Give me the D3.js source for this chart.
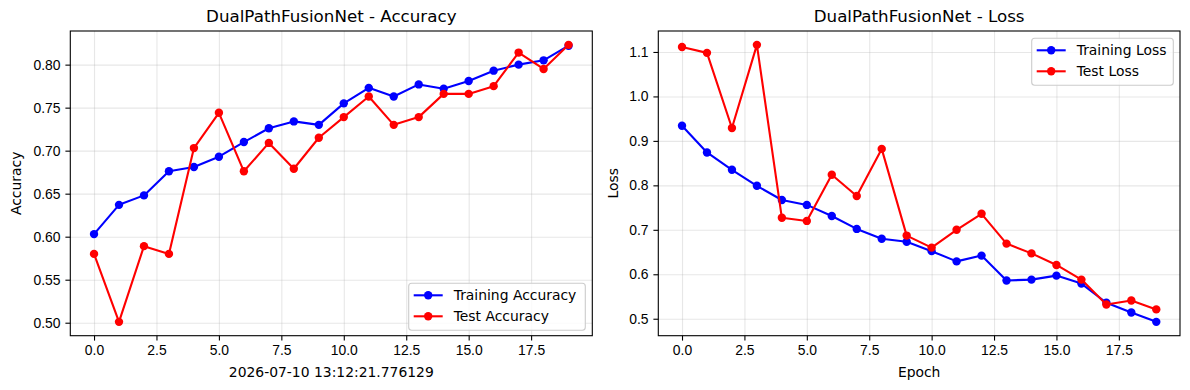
<!DOCTYPE html>
<html>
<head>
<meta charset="utf-8">
<script src="https://d3js.org/d3.v7.min.js"></script>
<title>DualPathFusionNet - training curves</title>
<style>
  body { margin: 0; background: #fff; }
  svg { font-family: "DejaVu Sans", sans-serif; }
  .tick text { font-size: 13.9px; fill: #000; }
  .grid line { stroke: #b0b0b0; stroke-opacity: 0.3; stroke-width: 1.1px; }
  .grid path { display: none; }
</style>
</head>
<body>
<div id="chart"></div>
<script>
// epochs 0..19
var epochs = [0,1,2,3,4,5,6,7,8,9,10,11,12,13,14,15,16,17,18,19];

// accuracy per epoch
var trainAcc = [0.603,0.637,0.648,0.676,0.681,0.693,0.710,0.726,0.734,0.730,
                0.755,0.773,0.763,0.777,0.772,0.781,0.793,0.800,0.805,0.822];
var testAcc  = [0.580,0.501,0.589,0.580,0.703,0.744,0.676,0.709,0.679,0.715,
                0.739,0.763,0.730,0.739,0.766,0.766,0.775,0.814,0.795,0.823];

// loss per epoch
var trainLoss = [0.934,0.874,0.835,0.799,0.767,0.756,0.731,0.702,0.680,0.673,
                 0.652,0.629,0.642,0.586,0.588,0.597,0.579,0.536,0.514,0.493];
var testLoss  = [1.111,1.098,0.929,1.116,0.727,0.720,0.824,0.776,0.882,0.687,
                 0.660,0.700,0.736,0.669,0.647,0.621,0.588,0.532,0.541,0.521];

var xTicks = [0,2.5,5,7.5,10,12.5,15,17.5];
var accTicks = [0.50,0.55,0.60,0.65,0.70,0.75,0.80];
var lossTicks = [0.5,0.6,0.7,0.8,0.9,1.0,1.1];

var W = 1190, H = 390;
var svg = d3.select("#chart").append("svg").attr("width", W).attr("height", H);

// matplotlib style 5% margins
function padded(vals) {
  var lo = d3.min(vals), hi = d3.max(vals), m = (hi - lo) * 0.05;
  return [lo - m, hi + m];
}

function panel(opt) {
  var x = d3.scaleLinear().domain(padded(epochs)).range([opt.left, opt.right]);
  var y = d3.scaleLinear().domain(padded(opt.series[0].values.concat(opt.series[1].values)))
            .range([opt.bottom, opt.top]);
  var g = svg.append("g");
  var h = opt.bottom - opt.top, w = opt.right - opt.left;

  // grid
  g.append("g").attr("class", "grid")
    .attr("transform", "translate(0," + opt.bottom + ")")
    .call(d3.axisBottom(x).tickValues(xTicks).tickSize(-h).tickFormat(""));
  g.append("g").attr("class", "grid")
    .attr("transform", "translate(" + opt.left + ",0)")
    .call(d3.axisLeft(y).tickValues(opt.yTicks).tickSize(-w).tickFormat(""));

  // lines + markers
  opt.series.forEach(function(s) {
    var line = d3.line().x(function(d, i) { return x(epochs[i]); }).y(function(d) { return y(d); });
    g.append("path").datum(s.values)
      .attr("d", line).attr("fill", "none").attr("stroke", s.color)
      .attr("stroke-width", 2.1).attr("stroke-linejoin", "round");
    g.selectAll(null).data(s.values).enter().append("circle")
      .attr("cx", function(d, i) { return x(epochs[i]); })
      .attr("cy", function(d) { return y(d); })
      .attr("r", 4.2).attr("fill", s.color);
  });

  // frame
  g.append("rect").attr("x", opt.left).attr("y", opt.top).attr("width", w).attr("height", h)
    .attr("fill", "none").attr("stroke", "#000").attr("stroke-width", 1.1);

  // axes
  var xa = g.append("g").attr("transform", "translate(0," + opt.bottom + ")")
    .call(d3.axisBottom(x).tickValues(xTicks).tickSize(4.9).tickPadding(4.9).tickFormat(d3.format(".1f")));
  var ya = g.append("g").attr("transform", "translate(" + opt.left + ",0)")
    .call(d3.axisLeft(y).tickValues(opt.yTicks).tickSize(4.9).tickPadding(4.9).tickFormat(d3.format(opt.yFmt)));
  [xa, ya].forEach(function(a) {
    a.select(".domain").remove();
    a.selectAll(".tick line").attr("stroke", "#000").attr("stroke-width", 1.1);
  });

  // titles
  var cx = (opt.left + opt.right) / 2;
  g.append("text").attr("x", cx).attr("y", 22).attr("text-anchor", "middle")
    .attr("font-size", 16.7).attr("fill", "#000").text(opt.title);
  g.append("text").attr("x", cx).attr("y", 377).attr("text-anchor", "middle")
    .attr("font-size", 13.9).attr("fill", "#000").text(opt.xLabel);
  g.append("text").attr("transform", "translate(" + opt.yLabelX + "," + (opt.top + opt.bottom) / 2 + ") rotate(-90)")
    .attr("text-anchor", "middle").attr("font-size", 13.9).attr("fill", "#000").text(opt.yLabel);

  // legend
  var L = opt.legend;
  var lg = g.append("g");
  lg.append("rect").attr("x", L.x).attr("y", L.y).attr("width", L.w).attr("height", 47)
    .attr("rx", 3).attr("fill", "#fff").attr("fill-opacity", 0.8)
    .attr("stroke", "#cccccc").attr("stroke-width", 1.1);
  opt.series.forEach(function(s, i) {
    var ry = L.y + 12 + i * 21;
    lg.append("line").attr("x1", L.x + 5).attr("x2", L.x + 34).attr("y1", ry).attr("y2", ry)
      .attr("stroke", s.color).attr("stroke-width", 2.1);
    lg.append("circle").attr("cx", L.x + 19.5).attr("cy", ry).attr("r", 4.2).attr("fill", s.color);
    lg.append("text").attr("x", L.x + 45).attr("y", ry + 5).attr("font-size", 13.9)
      .attr("fill", "#000").text(s.name);
  });
}

panel({
  left: 70.3, right: 592.3, top: 31, bottom: 335.7,
  title: "DualPathFusionNet - Accuracy",
  xLabel: "2026-07-10 13:12:21.776129",
  yLabel: "Accuracy", yLabelX: 21,
  yTicks: accTicks, yFmt: ".2f",
  series: [
    { name: "Training Accuracy", values: trainAcc, color: "#0000ff" },
    { name: "Test Accuracy", values: testAcc, color: "#ff0000" }
  ],
  legend: { x: 408.7, y: 283.3, w: 176.6 }
});

panel({
  left: 658.3, right: 1180, top: 31, bottom: 335.7,
  title: "DualPathFusionNet - Loss",
  xLabel: "Epoch",
  yLabel: "Loss", yLabelX: 618,
  yTicks: lossTicks, yFmt: ".1f",
  series: [
    { name: "Training Loss", values: trainLoss, color: "#0000ff" },
    { name: "Test Loss", values: testLoss, color: "#ff0000" }
  ],
  legend: { x: 1031.7, y: 38.3, w: 141.6 }
});
</script>
</body>
</html>
